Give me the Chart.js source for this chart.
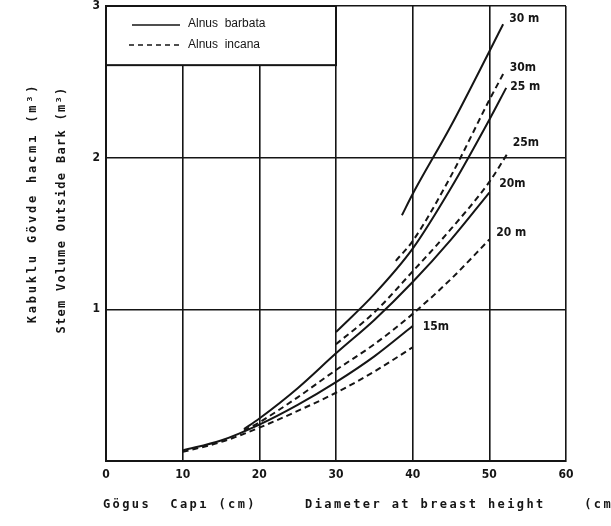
<!DOCTYPE html>
<html>
<head>
<meta charset="utf-8">
<script src="https://cdn.jsdelivr.net/npm/chart.js@4/dist/chart.umd.min.js"></script>
<style>
  html, body { margin: 0; padding: 0; background: #fff; }
  #wrap { width: 611px; height: 526px; }
</style>
</head>
<body>
<div id="wrap"><canvas id="c" width="611" height="526"></canvas></div>
<script>
// diameter (cm) and stem volume (m3) per height class
const x15 = [10, 15, 20, 25, 30, 35, 40];
const barbata15 = [0.07, 0.135, 0.24, 0.37, 0.52, 0.69, 0.89];
const incana15 = [0.06, 0.125, 0.22, 0.33, 0.45, 0.59, 0.75];

const x20 = [18, 20, 25, 30, 35, 40, 45, 50];
const barbata20 = [0.21, 0.28, 0.48, 0.71, 0.93, 1.18, 1.46, 1.77];
const incana20 = [0.20, 0.255, 0.42, 0.60, 0.77, 0.97, 1.20, 1.46];

const xBarbata25 = [30, 35, 40, 45, 50, 52.2];
const barbata25 = [0.85, 1.10, 1.40, 1.80, 2.25, 2.46];
const xIncana25 = [30, 35, 40, 45, 50, 52.4];
const incana25 = [0.77, 0.98, 1.25, 1.53, 1.84, 2.03];

const xBarbata30 = [38.6, 40, 45, 50, 51.8];
const barbata30 = [1.62, 1.76, 2.21, 2.70, 2.88];
const xIncana30 = [37.8, 40, 45, 50, 52];
const incana30 = [1.32, 1.45, 1.88, 2.38, 2.57];

const xTicks = [0, 10, 20, 30, 40, 50, 60];
const yTicks = [0, 1, 2, 3];
const species = ["Alnus  barbata", "Alnus  incana"];

const pts = (xs, ys) => xs.map((x, i) => ({ x: x, y: ys[i] }));
const INK = "#151515";
const DASH = [6, 4];

function series(xs, ys, dashed, label, dx, dy) {
  return {
    data: pts(xs, ys),
    borderColor: INK,
    borderWidth: 2,
    borderDash: dashed ? DASH : [],
    pointRadius: 0,
    tension: 0.4,
    cubicInterpolationMode: "monotone",
    fill: false,
    endLabel: label,
    labelDx: dx,
    labelDy: dy
  };
}

const datasets = [
  series(x15, incana15, true, "", 0, 0),
  series(x15, barbata15, false, "15m", 10, 1),
  series(x20, incana20, true, "20 m", 7, -7),
  series(x20, barbata20, false, "20m", 10, -9),
  series(xIncana25, incana25, true, "25m", 5, -10),
  series(xBarbata25, barbata25, false, "25 m", 4, -1),
  series(xIncana30, incana30, true, "30m", 5, -3),
  series(xBarbata30, barbata30, false, "30 m", 6, -5)
];

const decor = {
  id: "decor",
  afterDraw(chart) {
    const ctx = chart.ctx;
    const xs = chart.scales.x, ys = chart.scales.y;
    ctx.save();

    // legend box in the top-left cell
    const l = xs.getPixelForValue(0), r = xs.getPixelForValue(30);
    const t = ys.getPixelForValue(3), b = ys.getPixelForValue(2.61);
    ctx.fillStyle = "#fff";
    ctx.fillRect(l, t, r - l, b - t);
    ctx.strokeStyle = INK;
    ctx.lineWidth = 2;
    ctx.strokeRect(l, t, r - l, b - t);
    ctx.lineWidth = 1.5;
    ctx.beginPath(); ctx.moveTo(132, 25); ctx.lineTo(180, 25); ctx.stroke();
    ctx.setLineDash([5, 4]);
    ctx.beginPath(); ctx.moveTo(129, 45); ctx.lineTo(180, 45); ctx.stroke();
    ctx.setLineDash([]);
    ctx.fillStyle = INK;
    ctx.font = "12px 'Liberation Sans', sans-serif";
    ctx.textBaseline = "middle";
    ctx.fillText(species[0], 188, 24);
    ctx.fillText(species[1], 188, 45);

    // height class labels at the curve ends
    ctx.font = "bold 12px 'DejaVu Sans Condensed', 'DejaVu Sans'";
    chart.data.datasets.forEach(ds => {
      if (!ds.endLabel) return;
      const p = ds.data[ds.data.length - 1];
      ctx.fillText(ds.endLabel, xs.getPixelForValue(p.x) + ds.labelDx, ys.getPixelForValue(p.y) + ds.labelDy);
    });

    // axis titles
    ctx.font = "bold 12px 'DejaVu Sans Mono', monospace";
    ctx.textAlign = "left";
    ctx.letterSpacing = "2.4px";
    ctx.fillText("Gögus  Capı (cm)     Diameter at breast height    (cm)", 103, 505);

    ctx.textAlign = "center";
    ctx.translate(33, 203);
    ctx.rotate(-Math.PI / 2);
    ctx.letterSpacing = "2.8px";
    ctx.fillText("Kabuklu Gövde hacmı (m³)", 0, 0);
    ctx.rotate(Math.PI / 2);
    ctx.translate(29, 7);
    ctx.rotate(-Math.PI / 2);
    ctx.letterSpacing = "1.3px";
    ctx.fillText("Stem Volume Outside Bark (m³)", 0, 0);
    ctx.restore();
  }
};

new Chart(document.getElementById("c"), {
  type: "line",
  data: { datasets: datasets },
  options: {
    responsive: false,
    animation: false,
    layout: { padding: { top: 6, right: 45, left: 0, bottom: 0 } },
    plugins: { legend: { display: false }, tooltip: { enabled: false } },
    scales: {
      x: {
        type: "linear",
        min: 0, max: 60,
        afterBuildTicks: s => { s.ticks = xTicks.map(v => ({ value: v })); },
        afterFit: s => { s.height = 65; },
        grid: { color: INK, lineWidth: 1.6, drawTicks: false },
        border: { color: INK, width: 2 },
        ticks: { color: INK, padding: 7, font: { family: "'DejaVu Sans Condensed', 'DejaVu Sans'", size: 12, weight: "bold" } }
      },
      y: {
        min: 0, max: 3,
        afterBuildTicks: s => { s.ticks = yTicks.map(v => ({ value: v })); },
        afterFit: s => { s.width = 106; s.paddingTop = 0; s.paddingBottom = 0; },
        grid: { color: INK, lineWidth: 1.6, drawTicks: false },
        border: { color: INK, width: 2 },
        ticks: {
          color: INK, padding: 6,
          font: { family: "'DejaVu Sans Condensed', 'DejaVu Sans'", size: 12, weight: "bold" },
          callback: v => (v === 0 ? "" : v)
        }
      }
    }
  },
  plugins: [decor]
});
</script>
</body>
</html>
